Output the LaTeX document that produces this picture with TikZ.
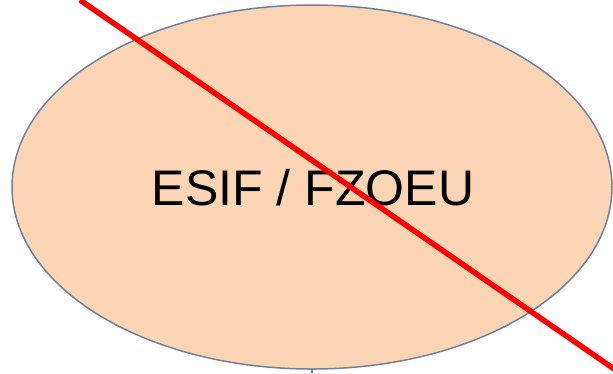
\documentclass[tikz,border=0pt]{standalone}
\usepackage{fontspec}
\setmainfont{Liberation Sans}
\usetikzlibrary{shapes.geometric}
\definecolor{peach}{RGB}{252,213,181}
\definecolor{rimblue}{RGB}{112,128,158}
\definecolor{stubblue}{RGB}{79,129,189}

\begin{document}
\begin{tikzpicture}[x=1pt, y=-1pt]
\useasboundingbox (0, 0) rectangle (613, 373);
\node[ellipse, draw=rimblue, line width=1.5pt, fill=peach, minimum width=600pt, minimum height=364pt, inner sep=0pt] (esif) at (312, 187) {};
\node[anchor=base, font=\fontsize{50}{58}\selectfont] (label) at (313, 205) {ESIF / FZOEU};
\coordinate (stub) at (312, 373);
\draw[stubblue, line width=1.5pt] (esif.south) -- (stub);
\coordinate (cross start) at (80, 0);
\coordinate (cross end) at (620, 373);
\draw[red, line width=5.5pt] (cross start) -- (cross end);
\end{tikzpicture}
\end{document}
